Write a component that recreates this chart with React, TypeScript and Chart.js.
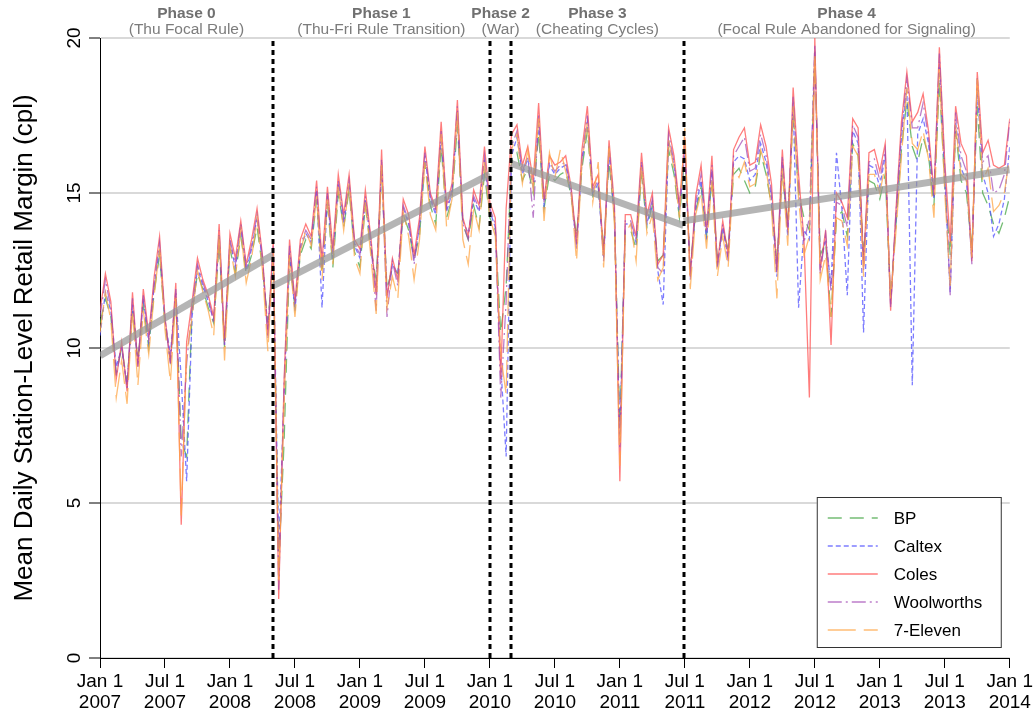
import { useEffect, useRef } from "react";
import { Chart, registerables } from "chart.js";

Chart.register(...registerables);

const FONT = '"Liberation Sans", Arial, Helvetica, sans-serif';

// Half-monthly samples beginning Jan 1 2007 (24 per year, 169 samples to Jan 1 2014)
const SAMPLES_PER_YEAR = 24;
const START_YEAR = 2007;

const bp = [
  10.8, 11.6, 11.0, 9.2, 10.0, 8.9, 11.2, 9.6, 11.4, 10.0, 11.8, 13.0,
  10.8, 9.6, 11.6, 7.0, 6.5, 11.2, 12.4, 11.9, 11.3, 10.8, 13.4, 10.0,
  13.2, 12.4, 13.6, 12.4, 13.0, 13.9, 12.6, 10.8, 12.9, 3.0, 7.0, 12.9,
  11.3, 13.0, 13.5, 13.2, 14.8, 12.4, 14.7, 12.6, 15.0, 13.9, 15.1, 13.1,
  12.6, 14.6, 13.2, 12.2, 15.7, 11.9, 12.6, 12.4, 14.3, 13.8, 12.9, 13.6,
  16.0, 14.6, 14.0, 16.5, 14.2, 14.8, 17.2, 14.0, 13.5, 14.6, 13.9, 15.6,
  14.2, 13.8, 10.5, 12.0, 16.0, 16.3, 15.4, 15.8, 15.0, 16.9, 14.5, 15.6,
  15.4, 15.6, 15.7, 14.9, 13.6, 15.8, 17.0, 14.9, 15.2, 13.2, 16.0, 14.2,
  7.5, 13.8, 13.8, 13.2, 15.6, 13.9, 14.6, 12.8, 13.0, 16.4, 15.6, 14.2,
  16.2, 12.6, 14.4, 15.2, 13.6, 15.4, 12.9, 13.8, 13.2, 15.6, 15.8, 15.4,
  15.0, 15.2, 16.3, 15.6, 14.6, 12.8, 15.6, 14.0, 17.6, 15.0, 14.2, 13.8,
  19.4, 13.0, 13.4, 11.0, 14.2, 14.4, 13.6, 16.6, 16.2, 13.0, 15.4, 15.3,
  14.8, 15.6, 11.6, 14.0, 16.4, 18.0, 16.5, 16.0, 16.8, 16.2, 14.6, 18.6,
  15.2, 13.0, 17.0, 15.4, 15.0, 13.2, 17.8, 15.0, 14.6, 14.0, 13.7, 14.2,
  14.9,
];

const caltex = [
  10.4, 11.8, 11.2, 9.4, 10.0, 8.8, 11.4, 9.5, 11.6, 10.2, 12.0, 13.2,
  10.9, 9.8, 11.8, 9.0, 5.7, 11.0, 12.6, 12.0, 11.5, 10.9, 13.6, 10.1,
  13.4, 12.6, 13.9, 12.5, 13.2, 14.2, 12.8, 10.6, 13.1, 3.5, 8.5, 13.1,
  11.2, 13.2, 13.7, 13.4, 15.1, 11.3, 14.9, 12.9, 15.3, 14.0, 15.3, 13.3,
  12.9, 14.8, 13.4, 11.8, 15.9, 11.7, 12.7, 12.4, 14.5, 14.0, 12.9, 13.9,
  16.2, 14.8, 14.3, 16.8, 14.4, 15.0, 17.5, 14.1, 13.7, 14.8, 14.4, 16.0,
  14.4, 13.9, 9.5, 6.5, 16.2, 16.8, 15.6, 16.1, 15.2, 17.2, 14.6, 15.9,
  15.6, 15.8, 15.9, 15.0, 13.3, 16.0, 17.3, 15.0, 15.3, 12.9, 16.3, 14.2,
  7.0, 14.0, 14.0, 13.4, 15.9, 14.0, 14.7, 12.5, 11.4, 16.7, 15.9, 14.4,
  16.4, 12.4, 14.5, 15.4, 13.5, 15.7, 12.6, 13.9, 12.9, 16.0, 16.2, 16.1,
  15.4, 15.6, 16.6, 16.0, 14.8, 12.3, 16.0, 13.6, 17.9, 11.3, 13.8, 13.5,
  19.6, 12.7, 13.5, 12.0, 16.3, 14.5, 11.7, 17.0, 16.6, 10.5, 15.9, 15.8,
  15.2, 16.2, 11.4, 14.2, 16.8, 18.4, 8.8, 16.9, 17.4, 16.6, 14.8, 19.2,
  15.5, 11.8, 17.3, 15.8, 15.4, 12.9, 18.4, 15.6, 15.0, 13.6, 14.0, 14.8,
  16.5,
];

const coles = [
  11.2, 12.4, 11.5, 9.0, 10.2, 8.6, 11.8, 9.4, 11.9, 10.4, 12.3, 13.6,
  11.0, 9.5, 12.1, 4.3, 10.2, 11.5, 12.9, 12.2, 11.7, 11.0, 14.0, 10.2,
  13.7, 12.9, 14.1, 12.7, 13.5, 14.5, 13.0, 10.4, 13.5, 1.9, 9.0, 13.5,
  11.5, 13.5, 14.0, 13.6, 15.4, 12.8, 15.2, 13.2, 15.6, 14.3, 15.6, 13.5,
  13.2, 15.1, 13.6, 11.7, 16.4, 11.6, 12.9, 12.2, 14.8, 14.3, 13.0, 14.2,
  16.5, 15.0, 14.5, 17.3, 14.6, 15.3, 18.0, 14.2, 13.6, 15.1, 14.6, 16.5,
  14.7, 14.2, 9.0, 14.5, 16.9, 17.2, 15.9, 16.5, 15.4, 17.9, 14.8, 16.2,
  15.9, 16.0, 16.2, 15.2, 13.4, 16.4, 17.8, 15.2, 15.6, 13.0, 16.7, 14.6,
  5.7, 14.3, 14.3, 13.6, 16.3, 14.3, 15.0, 12.7, 13.0, 17.1, 16.2, 14.6,
  16.8, 12.3, 14.9, 15.9, 13.8, 16.2, 12.7, 14.1, 13.0, 16.4, 16.8, 17.1,
  15.9, 16.0, 17.2, 16.5, 15.3, 12.5, 16.4, 13.8, 18.4, 15.6, 13.5, 8.4,
  20.0, 12.5, 13.8, 10.1, 15.0, 14.7, 14.2, 17.4, 17.1, 12.7, 16.3, 16.4,
  15.7, 16.6, 11.2, 14.5, 17.3, 18.9, 17.3, 17.6, 18.2, 17.0, 15.0, 19.7,
  16.0, 13.4, 17.8, 16.6, 16.2, 12.8, 18.9, 16.3, 16.7, 15.9, 15.8, 15.9,
  17.4,
];

const woolworths = [
  11.0, 12.2, 11.3, 9.1, 10.1, 8.7, 11.6, 9.4, 11.7, 10.3, 12.1, 13.4,
  10.9, 9.5, 11.9, 6.5, 9.5, 11.3, 12.7, 12.1, 11.6, 10.8, 13.8, 10.1,
  13.5, 12.7, 14.0, 12.6, 13.3, 14.3, 12.9, 10.3, 13.3, 2.2, 8.8, 13.3,
  11.4, 13.3, 13.8, 13.5, 15.2, 12.6, 15.0, 13.0, 15.4, 14.2, 15.4, 13.4,
  13.0, 14.9, 13.5, 11.2, 16.1, 11.0, 12.8, 12.0, 14.6, 14.1, 12.7, 14.0,
  16.3, 14.9, 14.4, 17.0, 14.5, 15.1, 17.8, 14.0, 13.5, 14.9, 14.5, 16.2,
  14.5, 14.0, 8.4, 11.5, 16.5, 17.0, 15.7, 16.2, 14.2, 17.5, 14.7, 16.0,
  15.7, 15.9, 16.0, 15.1, 13.2, 16.1, 17.5, 15.1, 15.4, 12.8, 16.5, 14.4,
  6.8, 14.1, 14.1, 13.5, 16.0, 14.1, 14.8, 12.6, 12.4, 16.9, 16.0, 14.5,
  16.6, 12.2, 14.7, 15.6, 13.7, 15.9, 12.6, 14.0, 12.8, 16.2, 16.5, 16.8,
  15.7, 15.8, 16.9, 16.2, 15.0, 12.4, 16.2, 13.7, 18.1, 15.2, 13.4, 14.2,
  19.8, 12.4, 13.7, 11.8, 14.7, 14.6, 13.9, 17.2, 16.8, 12.5, 16.0, 16.1,
  15.4, 16.4, 11.3, 14.4, 17.0, 18.7, 17.1, 17.1, 17.9, 16.8, 14.9, 19.5,
  15.8, 11.7, 17.6, 16.2, 15.7, 12.7, 18.7, 16.0, 16.2, 15.0, 15.1, 15.6,
  17.3,
];

const sevenEleven = [
  10.5, 11.8, 10.9, 8.4, 9.6, 8.2, 11.2, 8.8, 11.2, 9.8, 11.7, 13.2,
  10.6, 8.9, 11.6, 4.6, 9.8, 11.0, 12.5, 11.8, 11.2, 10.4, 13.7, 9.6,
  13.3, 12.3, 13.8, 12.1, 12.9, 14.2, 12.5, 9.9, 13.1, 2.5, 8.2, 13.0,
  11.0, 13.1, 13.8, 13.3, 14.9, 12.2, 14.8, 12.7, 15.2, 13.8, 15.3, 12.9,
  12.4, 14.7, 13.0, 11.1, 15.9, 11.3, 12.3, 11.6, 14.4, 13.6, 12.2, 13.5,
  16.0, 14.3, 13.8, 16.9, 13.9, 14.8, 17.6, 13.5, 12.7, 14.5, 13.8, 16.0,
  14.2, 13.6, 9.8, 8.5, 16.4, 16.9, 15.3, 16.4, 15.1, 17.4, 14.1, 16.3,
  15.5, 16.4, 15.7, 15.0, 12.8, 16.0, 17.3, 14.7, 16.0, 12.6, 16.5, 14.0,
  6.2, 13.7, 14.0, 12.8, 15.9, 13.7, 14.3, 12.2, 12.6, 16.7, 15.8, 14.2,
  17.1, 11.9, 14.3, 15.0, 13.2, 15.4, 12.3, 13.6, 12.6, 15.8, 15.5, 16.0,
  15.2, 15.3, 16.4, 15.8, 14.5, 11.6, 15.8, 13.3, 17.8, 14.8, 13.0, 13.6,
  19.5, 12.2, 13.0, 11.0, 14.2, 14.1, 13.3, 16.5, 16.2, 12.3, 15.6, 15.6,
  15.0, 15.9, 11.6, 13.8, 16.2, 18.4, 16.6, 16.4, 17.0, 16.1, 14.2, 19.0,
  15.0, 12.0, 17.2, 15.6, 15.4, 12.9, 18.8, 15.4, 15.8, 14.4, 14.6, 15.0,
  16.2,
];

const seriesNames = ["BP", "Caltex", "Coles", "Woolworths", "7-Eleven"];
const seriesValues = [bp, caltex, coles, woolworths, sevenEleven];
const seriesColors = [
  "rgba(70,165,70,0.75)",
  "rgba(80,80,255,0.75)",
  "rgba(255,80,80,0.75)",
  "rgba(160,70,180,0.7)",
  "rgba(255,165,70,0.75)",
];
const seriesDashes = [[14, 8], [5, 3], [], [14, 4, 2, 4], [28, 8]];

// Phase boundaries in years since Jan 1 2007
const phaseBounds = [0, 1.33, 3.0, 3.165, 4.49, 7];
const phaseTitles = ["Phase 0", "Phase 1", "Phase 2", "Phase 3", "Phase 4"];
const phaseSubtitles = [
  "(Thu Focal Rule)",
  "(Thu-Fri Rule Transition)",
  "(War)",
  "(Cheating Cycles)",
  "(Focal Rule Abandoned for Signaling)",
];
// Fitted within-phase trend: value at phase start and phase end
const trendStart = [9.75, 12.0, null, 15.95, 14.1];
const trendEnd = [13.0, 15.6, null, 13.95, 15.75];

const yTickValues = [0, 5, 10, 15, 20];

const toPoints = (vals: number[]) =>
  vals.map((v, i) => ({ x: i / SAMPLES_PER_YEAR, y: v }));

const overlayPlugin = {
  id: "phaseOverlay",
  afterDatasetsDraw(chart: any) {
    const { ctx, chartArea, scales } = chart;
    const xs = scales.x;
    ctx.save();
    ctx.strokeStyle = "#000";
    ctx.lineWidth = 3;
    ctx.setLineDash([5, 4]);
    for (const b of phaseBounds.slice(1, -1)) {
      const px = Math.round(xs.getPixelForValue(b));
      ctx.beginPath();
      ctx.moveTo(px, chartArea.top + 3);
      ctx.lineTo(px, chartArea.bottom);
      ctx.stroke();
    }
    ctx.restore();
  },
  afterDraw(chart: any) {
    const { ctx, chartArea, scales } = chart;
    const xs = scales.x;
    const ys = scales.y;
    ctx.save();

    // phase headings
    ctx.textAlign = "center";
    ctx.textBaseline = "middle";
    for (let i = 0; i < phaseTitles.length; i++) {
      const cx = (xs.getPixelForValue(phaseBounds[i]) + xs.getPixelForValue(phaseBounds[i + 1])) / 2;
      ctx.fillStyle = "#707070";
      ctx.font = `bold 15.5px ${FONT}`;
      ctx.fillText(phaseTitles[i], cx, 13.5);
      ctx.fillStyle = "#7c7c7c";
      ctx.font = `15.5px ${FONT}`;
      ctx.fillText(phaseSubtitles[i], cx, 29.5);
    }

    // rotated y tick labels
    ctx.fillStyle = "#000";
    ctx.font = `19px ${FONT}`;
    for (const v of yTickValues) {
      const py = ys.getPixelForValue(v);
      ctx.save();
      ctx.translate(75, py);
      ctx.rotate(-Math.PI / 2);
      ctx.fillText(String(v), 0, 0);
      ctx.restore();
    }

    // legend box
    const w = 184;
    const h = 150;
    const left = chartArea.right - 9 - w;
    const top = chartArea.bottom - 11 - h;
    ctx.fillStyle = "#fff";
    ctx.fillRect(left, top, w, h);
    ctx.strokeStyle = "#333";
    ctx.lineWidth = 1;
    ctx.setLineDash([]);
    ctx.strokeRect(left + 0.5, top + 0.5, w, h);
    ctx.textAlign = "left";
    ctx.font = `17px ${FONT}`;
    for (let i = 0; i < seriesNames.length; i++) {
      const ly = top + 21 + i * 28;
      ctx.strokeStyle = seriesColors[i];
      ctx.lineWidth = 1.6;
      ctx.setLineDash(seriesDashes[i]);
      ctx.beginPath();
      ctx.moveTo(left + 11, ly);
      ctx.lineTo(left + 61, ly);
      ctx.stroke();
      ctx.setLineDash([]);
      ctx.fillStyle = "#000";
      ctx.fillText(seriesNames[i], left + 77, ly + 1);
    }
    ctx.restore();
  },
};

export default function App() {
  const ref = useRef<HTMLCanvasElement | null>(null);

  useEffect(() => {
    if (!ref.current) return;

    const trendSets: any[] = [];
    for (let k = 0; k < trendStart.length; k++) {
      if (trendStart[k] == null) continue;
      trendSets.push({
        label: `trend ${k}`,
        data: [
          { x: phaseBounds[k], y: trendStart[k] },
          { x: phaseBounds[k + 1], y: trendEnd[k] },
        ],
        borderColor: "rgba(150,150,150,0.7)",
        borderWidth: 7,
        borderCapStyle: "butt",
        pointRadius: 0,
        order: 0,
      });
    }

    const lineSets = seriesNames.map((name, i) => ({
      label: name,
      data: toPoints(seriesValues[i]),
      borderColor: seriesColors[i],
      borderWidth: 1.3,
      borderDash: seriesDashes[i],
      pointRadius: 0,
      tension: 0,
      order: 5 - i,
    }));

    const chart = new Chart(ref.current, {
      type: "line",
      data: { datasets: [...trendSets, ...lineSets] },
      options: {
        animation: false,
        responsive: false,
        maintainAspectRatio: false,
        layout: { padding: { top: 38, right: 26, left: 0, bottom: 0 } },
        plugins: { legend: { display: false }, tooltip: { enabled: false } },
        scales: {
          x: {
            type: "linear",
            min: 0,
            max: 7,
            afterFit: (s: any) => {
              s.height = 57;
            },
            ticks: {
              stepSize: 0.5,
              autoSkip: false,
              maxRotation: 0,
              minRotation: 0,
              padding: 3,
              color: "#000",
              font: { family: FONT, size: 19, lineHeight: 1.12 },
              callback: (v: any) => {
                const n = Number(v);
                return [n % 1 === 0 ? "Jan 1" : "Jul 1", String(START_YEAR + Math.floor(n))];
              },
            },
            grid: {
              drawOnChartArea: false,
              tickLength: 10,
              tickColor: "#000",
              tickWidth: 1,
            },
            border: { color: "#000", width: 1 },
          },
          y: {
            type: "linear",
            min: 0,
            max: 20,
            afterFit: (s: any) => {
              s.width = 100;
            },
            ticks: { stepSize: 5, display: false },
            grid: {
              color: "#d9d9d9",
              lineWidth: 2,
              tickLength: 11,
              tickColor: "#000",
              tickWidth: 1,
            },
            border: { color: "#000", width: 1 },
            title: {
              display: true,
              text: "Mean Daily Station-Level Retail Margin (cpl)",
              color: "#000",
              font: { family: FONT, size: 26, lineHeight: 1.2 },
              padding: { top: 9, bottom: 0 },
            },
          },
        },
      },
      plugins: [overlayPlugin],
    });

    return () => chart.destroy();
  }, []);

  return (
    <div style={{ position: "fixed", left: 0, top: 0, width: 1036, height: 715, background: "#fff" }}>
      <canvas ref={ref} width={1036} height={715} style={{ display: "block" }} />
    </div>
  );
}
